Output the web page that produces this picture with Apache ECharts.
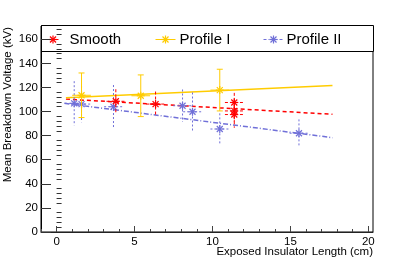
<!DOCTYPE html>
<html><head><meta charset="utf-8">
<script src="https://cdn.jsdelivr.net/npm/echarts@6/dist/echarts.min.js"></script>
<style>html,body{margin:0;padding:0;background:#fff}#c{width:415px;height:259px}</style>
</head><body><div id="c"></div>
<script>
// ---- data ----
const seriesNames = ['Smooth', 'Profile I', 'Profile II'];
const xTitle = 'Exposed Insulator Length (cm)';
const yTitle = 'Mean Breakdown Voltage (kV)';
const smoothX = [3.8, 6.35, 11.4, 11.4, 11.4];
const smoothY = [108.5, 106.2, 107.5, 100.5, 97.5];
const smoothErr = [10, 10.4, 8, 9, 11];
const prof1X = [1.6, 5.4, 10.47];
const prof1Y = [113.5, 113.1, 117.8];
const prof1Err = [18.5, 17.3, 17.3];
const prof2X = [1.13, 1.6, 3.65, 8.08, 8.72, 10.47, 15.55];
const prof2Y = [106.8, 106.2, 104, 104.8, 99.8, 85.5, 82];
const prof2Err = [18.4, 15, 18, 13.5, 16, 13, 11.5];
const xErr = 0.6;
const smoothFitX = [0.6, 17.7], smoothFitY = [110.3, 97.7];
const prof1FitX = [0.6, 17.7], prof1FitY = [111.4, 121.7];
const prof2FitX = [0.5, 17.7], prof2FitY = [106.8, 78.3];
const xMajor = [0, 5, 10, 15, 20];
const xMinor = [-1, 1, 2, 3, 4, 6, 7, 8, 9, 11, 12, 13, 14, 16, 17, 18, 19];
const yMajor = [0, 20, 40, 60, 80, 100, 120, 140, 160];
const yMinor = [4, 8, 12, 16, 24, 28, 32, 36, 44, 48, 52, 56, 64, 68, 72, 76, 84, 88, 92, 96, 104, 108, 112, 116, 124, 128, 132, 136, 144, 148, 152, 156, 164, 168];

const RED = '#ff0000', YEL = '#ffcc00', BLU = '#7070d8';
const FONT = '"Liberation Sans", Arial, Helvetica, sans-serif';

function pts(xs, ys, es) { return xs.map((x, i) => [x, ys[i], es[i], xErr]); }
function fit(xs, ys) { return xs.map((x, i) => [x, ys[i]]); }

function errRender(color, dash, caps) {
  return function (params, api) {
    const x = api.value(0), y = api.value(1), ey = api.value(2), ex = api.value(3);
    const c = api.coord([x, y]);
    const top = api.coord([x, y + ey]), bot = api.coord([x, y - ey]);
    const l = api.coord([x - ex, y]), r = api.coord([x + ex, y]);
    const st = { stroke: color, lineWidth: 1, lineDash: dash, fill: null };
    const ch = [
      { type: 'line', shape: { x1: c[0], y1: top[1], x2: c[0], y2: bot[1] }, style: st },
      { type: 'line', shape: { x1: l[0], y1: c[1], x2: r[0], y2: c[1] }, style: st }
    ];
    if (caps) {
      ch.push({ type: 'line', shape: { x1: c[0] - 3, y1: top[1], x2: c[0] + 3, y2: top[1] }, style: { stroke: color, lineWidth: 1 } });
      ch.push({ type: 'line', shape: { x1: c[0] - 3, y1: bot[1], x2: c[0] + 3, y2: bot[1] }, style: { stroke: color, lineWidth: 1 } });
    }
    const s = 4, d = 3;
    const ms = { stroke: color, lineWidth: 1.2 };
    ch.push(
      { type: 'line', shape: { x1: c[0] - s, y1: c[1], x2: c[0] + s, y2: c[1] }, style: ms },
      { type: 'line', shape: { x1: c[0], y1: c[1] - s, x2: c[0], y2: c[1] + s }, style: ms },
      { type: 'line', shape: { x1: c[0] - d, y1: c[1] - d, x2: c[0] + d, y2: c[1] + d }, style: ms },
      { type: 'line', shape: { x1: c[0] - d, y1: c[1] + d, x2: c[0] + d, y2: c[1] - d }, style: ms }
    );
    return { type: 'group', children: ch };
  };
}

function star(cx, cy, color) {
  const s = 4, d = 3, ms = { stroke: color, lineWidth: 1.2 };
  return [
    { type: 'line', shape: { x1: cx - s, y1: cy, x2: cx + s, y2: cy }, style: ms },
    { type: 'line', shape: { x1: cx, y1: cy - s, x2: cx, y2: cy + s }, style: ms },
    { type: 'line', shape: { x1: cx - d, y1: cy - d, x2: cx + d, y2: cy + d }, style: ms },
    { type: 'line', shape: { x1: cx - d, y1: cy + d, x2: cx + d, y2: cy - d }, style: ms }
  ];
}

const XMIN = -1, XMAX = 20.3, YMIN = 0, YMAX = 171;
const baseX = { type: 'value', min: XMIN, max: XMAX, position: 'bottom', splitLine: { show: false } };
const baseY = { type: 'value', min: YMIN, max: YMAX, position: 'left', splitLine: { show: false } };

const chart = echarts.init(document.getElementById('c'), null, { renderer: 'canvas' });
chart.setOption({
  animation: false,
  backgroundColor: '#fff',
  grid: { left: 41, right: 42, top: 26, bottom: 27, show: true, borderColor: '#000', borderWidth: 1, containLabel: false, outerBoundsMode: 'none' },
  xAxis: [
    Object.assign({}, baseX, {
      axisLine: { show: true, onZero: false, lineStyle: { color: '#222', width: 1 } },
      axisTick: { show: true, inside: true, length: 6, customValues: xMajor, lineStyle: { color: '#444' } },
      axisLabel: { show: true, customValues: xMajor, margin: 4, fontSize: 11.5, fontFamily: FONT, color: '#000' }
    }),
    Object.assign({}, baseX, {
      axisLine: { show: false },
      axisTick: { show: true, inside: true, length: 3, customValues: xMinor, lineStyle: { color: '#444' } },
      axisLabel: { show: false }
    })
  ],
  yAxis: [
    Object.assign({}, baseY, {
      axisLine: { show: true, onZero: false, lineStyle: { color: '#000', width: 1 } },
      axisTick: { show: true, inside: true, length: 10, customValues: yMajor, lineStyle: { color: '#333' } },
      axisLabel: { show: true, customValues: yMajor, margin: 3, fontSize: 11.5, fontFamily: FONT, color: '#000' }
    }),
    Object.assign({}, baseY, {
      axisLine: { show: false },
      axisTick: { show: true, inside: true, length: 5, customValues: yMinor, lineStyle: { color: '#333' } },
      axisLabel: { show: false }
    })
  ],
  series: [
    { name: seriesNames[0] + ' fit', type: 'line', data: fit(smoothFitX, smoothFitY), symbol: 'none', lineStyle: { color: RED, width: 1.5, type: [4, 3] }, z: 3 },
    { name: seriesNames[1] + ' fit', type: 'line', data: fit(prof1FitX, prof1FitY), symbol: 'none', lineStyle: { color: YEL, width: 1.5, type: 'solid' }, z: 3 },
    { name: seriesNames[2] + ' fit', type: 'line', data: fit(prof2FitX, prof2FitY), symbol: 'none', lineStyle: { color: BLU, width: 1.5, type: [5, 2, 1, 2] }, z: 3 },
    { name: seriesNames[2], type: 'custom', data: pts(prof2X, prof2Y, prof2Err), renderItem: errRender(BLU, [2, 2], false), z: 4 },
    { name: seriesNames[1], type: 'custom', data: pts(prof1X, prof1Y, prof1Err), renderItem: errRender(YEL, null, true), z: 5 },
    { name: seriesNames[0], type: 'custom', data: pts(smoothX, smoothY, smoothErr), renderItem: errRender(RED, [3, 2], false), z: 6 }
  ],
  graphic: [
    { type: 'text', x: 373, y: 252, z: 100, style: { text: xTitle, font: '11.5px ' + FONT, fill: '#000', align: 'right', verticalAlign: 'middle' } },
    { type: 'text', x: 8, y: 27, rotation: Math.PI / 2, z: 100, style: { text: yTitle, font: '11.5px ' + FONT, fill: '#000', align: 'right', verticalAlign: 'middle' } },
    {
    type: 'group', left: 41, top: 25, z: 100,
    children: [
      { type: 'rect', shape: { x: 0, y: 0, width: 332, height: 26 }, style: { fill: '#fff', stroke: '#000', lineWidth: 1 } },
      { type: 'line', shape: { x1: 4, y1: 14, x2: 19, y2: 14 }, style: { stroke: RED, lineWidth: 1, lineDash: [3, 2] } },
      ...star(11.5, 14, RED),
      { type: 'text', x: 28, y: 14, style: { text: seriesNames[0], font: '15px ' + FONT, fill: '#000', verticalAlign: 'middle' } },
      { type: 'line', shape: { x1: 114, y1: 14, x2: 134, y2: 14 }, style: { stroke: YEL, lineWidth: 1 } },
      ...star(124, 14, YEL),
      { type: 'text', x: 138, y: 14, style: { text: seriesNames[1], font: '15px ' + FONT, fill: '#000', verticalAlign: 'middle' } },
      { type: 'line', shape: { x1: 222, y1: 14, x2: 242, y2: 14 }, style: { stroke: BLU, lineWidth: 1, lineDash: [3, 2, 1, 2] } },
      ...star(232, 14, BLU),
      { type: 'text', x: 245, y: 14, style: { text: seriesNames[2], font: '15px ' + FONT, fill: '#000', verticalAlign: 'middle' } }
    ]
  }]
});
</script>
</body></html>
